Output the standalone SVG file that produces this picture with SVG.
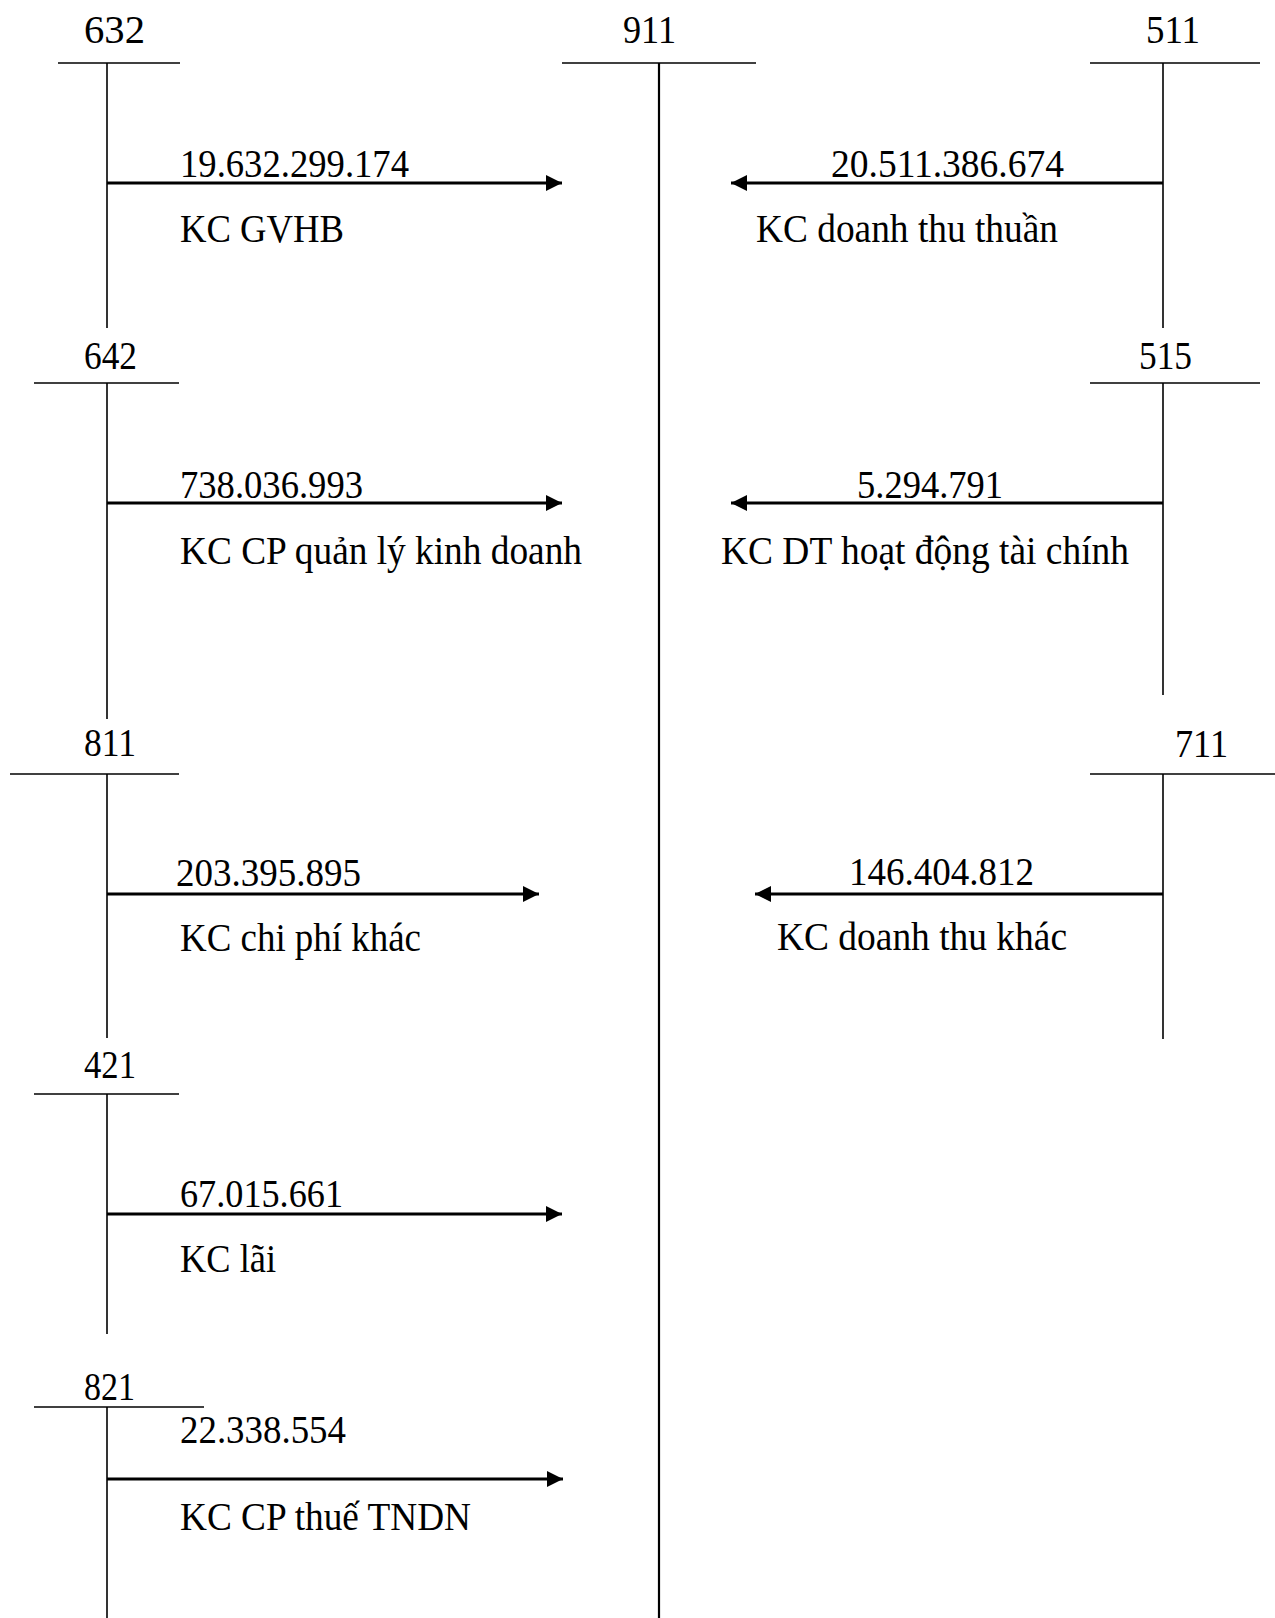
<svg xmlns="http://www.w3.org/2000/svg" width="1275" height="1618" viewBox="0 0 1275 1618">
<style>
.t{font-family:"Liberation Serif","Times New Roman",serif;font-size:40px;fill:#000}
.ln{stroke:#000;stroke-width:1.6;fill:none}
.main{stroke:#000;stroke-width:2.2;fill:none}
.ar{stroke:#000;stroke-width:2.8;fill:none;marker-end:url(#ah)}
</style>
<defs>
<marker id="ah" markerUnits="userSpaceOnUse" markerWidth="18" markerHeight="16" refX="16" refY="8" orient="auto">
<path d="M0,0 L16,8 L0,16 Z" fill="#000"/>
</marker>
</defs>
<rect width="1275" height="1618" fill="#fff"/>
<g id="acc-632">
<line class="ln" x1="58" y1="63" x2="180" y2="63"/>
<line class="ln" x1="107" y1="63" x2="107" y2="328"/>
<text class="t" x="84" y="43" textLength="61" lengthAdjust="spacingAndGlyphs">632</text>
</g>
<g id="acc-911">
<line class="ln" x1="562" y1="63" x2="756" y2="63"/>
<line class="main" x1="659" y1="63" x2="659" y2="1618"/>
<text class="t" x="623" y="43" textLength="53" lengthAdjust="spacingAndGlyphs">911</text>
</g>
<g id="acc-511">
<line class="ln" x1="1090" y1="63" x2="1260" y2="63"/>
<line class="ln" x1="1163" y1="63" x2="1163" y2="328"/>
<text class="t" x="1146" y="43" textLength="54" lengthAdjust="spacingAndGlyphs">511</text>
</g>
<g id="acc-642">
<line class="ln" x1="34" y1="383" x2="179" y2="383"/>
<line class="ln" x1="107" y1="383" x2="107" y2="719"/>
<text class="t" x="84" y="369" textLength="53" lengthAdjust="spacingAndGlyphs">642</text>
</g>
<g id="acc-515">
<line class="ln" x1="1090" y1="383" x2="1260" y2="383"/>
<line class="ln" x1="1163" y1="383" x2="1163" y2="695"/>
<text class="t" x="1139" y="369" textLength="53" lengthAdjust="spacingAndGlyphs">515</text>
</g>
<g id="acc-811">
<line class="ln" x1="10" y1="774" x2="179" y2="774"/>
<line class="ln" x1="107" y1="774" x2="107" y2="1038"/>
<text class="t" x="84" y="756" textLength="52" lengthAdjust="spacingAndGlyphs">811</text>
</g>
<g id="acc-711">
<line class="ln" x1="1090" y1="774" x2="1275" y2="774"/>
<line class="ln" x1="1163" y1="774" x2="1163" y2="1039"/>
<text class="t" x="1175" y="757" textLength="53" lengthAdjust="spacingAndGlyphs">711</text>
</g>
<g id="acc-421">
<line class="ln" x1="34" y1="1094" x2="179" y2="1094"/>
<line class="ln" x1="107" y1="1094" x2="107" y2="1334"/>
<text class="t" x="84" y="1078" textLength="52" lengthAdjust="spacingAndGlyphs">421</text>
</g>
<g id="acc-821">
<line class="ln" x1="34" y1="1407" x2="204" y2="1407"/>
<line class="ln" x1="107" y1="1407" x2="107" y2="1618"/>
<text class="t" x="84" y="1400" textLength="51" lengthAdjust="spacingAndGlyphs">821</text>
</g>
<g id="connectors">
<line class="ar" x1="107" y1="183" x2="562" y2="183"/>
<line class="ar" x1="1163" y1="183" x2="731" y2="183"/>
<line class="ar" x1="107" y1="503" x2="562" y2="503"/>
<line class="ar" x1="1163" y1="503" x2="731" y2="503"/>
<line class="ar" x1="107" y1="894" x2="539" y2="894"/>
<line class="ar" x1="1163" y1="894" x2="755" y2="894"/>
<line class="ar" x1="107" y1="1214" x2="562" y2="1214"/>
<line class="ar" x1="107" y1="1479" x2="563" y2="1479"/>
</g>
<g id="labels">
<text class="t" x="180" y="177" textLength="229" lengthAdjust="spacingAndGlyphs">19.632.299.174</text>
<text class="t" x="180" y="242" textLength="164" lengthAdjust="spacingAndGlyphs">KC GVHB</text>
<text class="t" x="831" y="177" textLength="233" lengthAdjust="spacingAndGlyphs">20.511.386.674</text>
<text class="t" x="756" y="242" textLength="302" lengthAdjust="spacingAndGlyphs">KC doanh thu thuần</text>
<text class="t" x="180" y="498" textLength="183" lengthAdjust="spacingAndGlyphs">738.036.993</text>
<text class="t" x="180" y="564" textLength="402" lengthAdjust="spacingAndGlyphs">KC CP quản lý kinh doanh</text>
<text class="t" x="857" y="498" textLength="146" lengthAdjust="spacingAndGlyphs">5.294.791</text>
<text class="t" x="721" y="564" textLength="408" lengthAdjust="spacingAndGlyphs">KC DT hoạt động tài chính</text>
<text class="t" x="176" y="886" textLength="185" lengthAdjust="spacingAndGlyphs">203.395.895</text>
<text class="t" x="180" y="951" textLength="241" lengthAdjust="spacingAndGlyphs">KC chi phí khác</text>
<text class="t" x="849" y="885" textLength="185" lengthAdjust="spacingAndGlyphs">146.404.812</text>
<text class="t" x="777" y="950" textLength="290" lengthAdjust="spacingAndGlyphs">KC doanh thu khác</text>
<text class="t" x="180" y="1207" textLength="163" lengthAdjust="spacingAndGlyphs">67.015.661</text>
<text class="t" x="180" y="1272" textLength="96" lengthAdjust="spacingAndGlyphs">KC lãi</text>
<text class="t" x="180" y="1443" textLength="166" lengthAdjust="spacingAndGlyphs">22.338.554</text>
<text class="t" x="180" y="1530" textLength="291" lengthAdjust="spacingAndGlyphs">KC CP thuế TNDN</text>
</g>
</svg>
